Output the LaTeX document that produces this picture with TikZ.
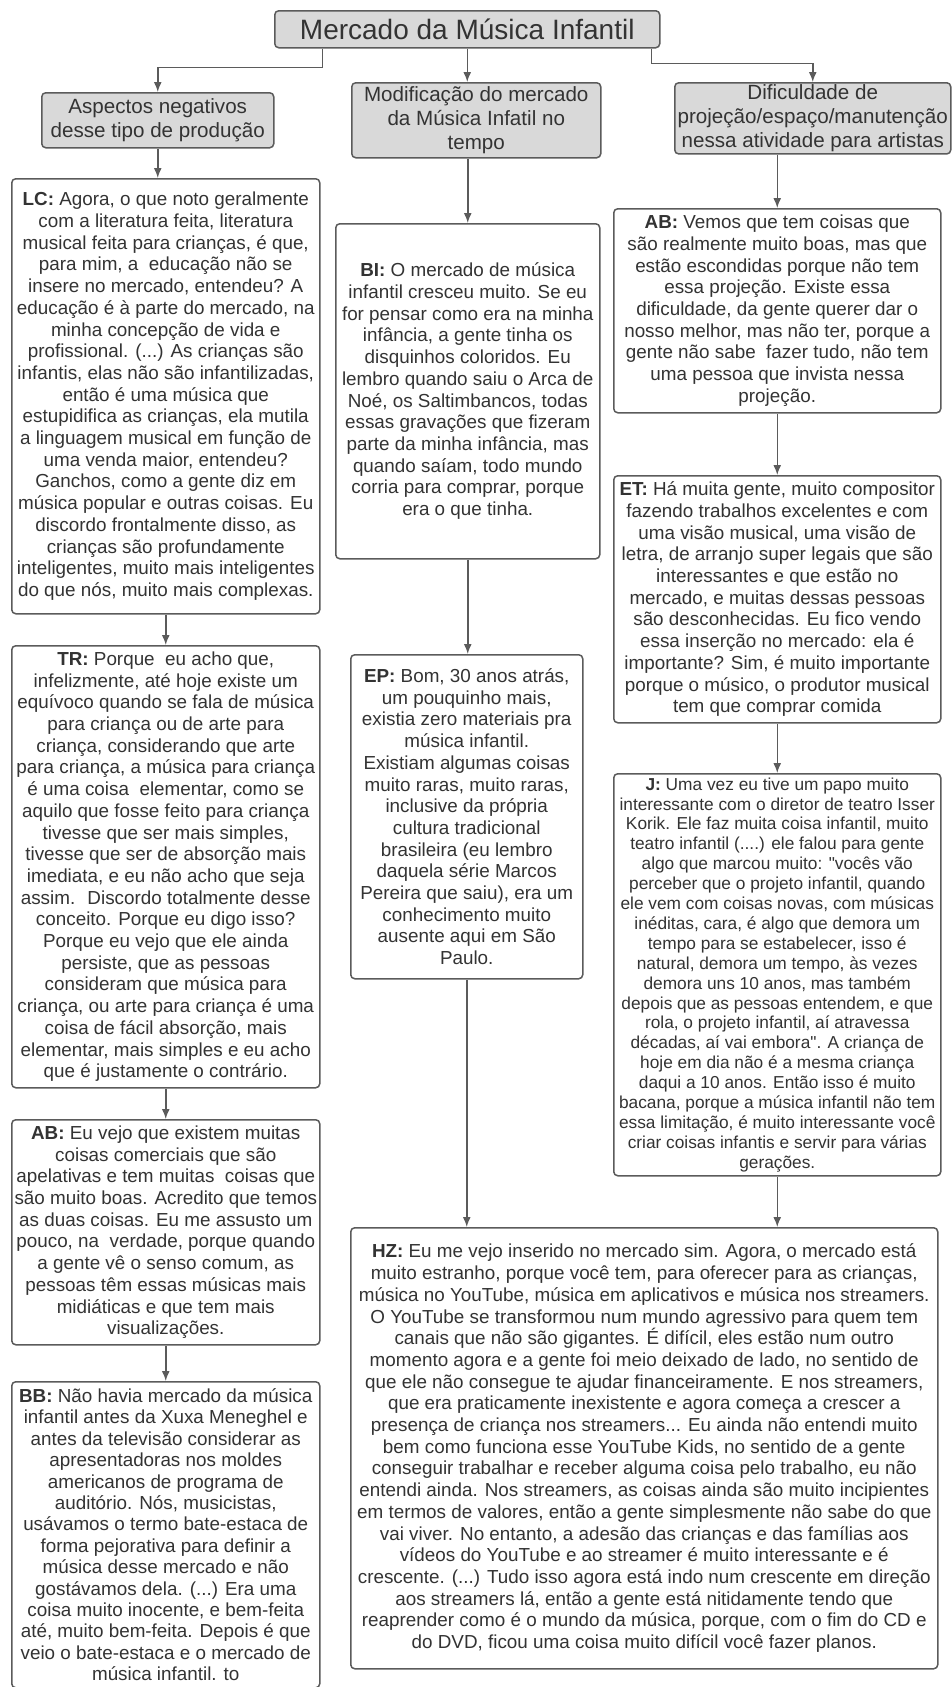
\documentclass[tikz,border=0pt]{standalone}
\usepackage{fontspec}
\setmainfont{Liberation Sans}
\usepackage{xcolor}
\usetikzlibrary{arrows.meta}
\definecolor{mapline}{HTML}{5B5B5B}
\definecolor{maptext}{HTML}{333333}
\definecolor{mapfill}{HTML}{D9D9D9}
\newcommand{\bodysize}{\fontsize{18.85}{21.7}\selectfont}
\newcommand{\smallbody}{\fontsize{17.3}{19.9}\selectfont}
\newcommand{\headsize}{\fontsize{20.6}{24}\selectfont}

\begin{document}
\begin{tikzpicture}[x=1pt, y=-1pt, >={Latex[length=10pt,width=8pt]},
  box/.style={draw=mapline, line width=1.5pt, rounded corners=4pt, align=center, text=maptext, inner sep=2pt, anchor=north west},
  head/.style={box, fill=mapfill, font=\headsize},
  quote/.style={box, fill=white, font=\bodysize},
  link/.style={->, draw=mapline, line width=1.5pt}]
  \useasboundingbox (0,0) rectangle (952,1687);
  \node[box, fill=mapfill, font=\fontsize{28}{32}\selectfont, minimum width=385pt, minimum height=37pt] (title) at (274,10) {Mercado da Música Infantil};
  \node[head, minimum width=232pt, minimum height=55pt] (asp) at (41,92) {Aspectos negativos\\desse tipo de produção};
  \node[head, minimum width=249pt, minimum height=75pt] (mod) at (351,82) {Modificação do mercado\\da Música Infatil no\\tempo};
  \node[head, minimum width=276pt, minimum height=71pt] (dif) at (674,82) {Dificuldade de\\projeção/espaço/manutenção\\nessa atividade para artistas};

  \node[quote, minimum width=308pt, minimum height=435pt] (lc) at (11,178) {\textbf{LC:} Agora, o que noto geralmente\\
    com a literatura feita, literatura\\
    musical feita para crianças, é que,\\
    para mim, a~ educação não se\\
    insere no mercado, entendeu? A\\
    educação é à parte do mercado, na\\
    minha concepção de vida e\\
    profissional. (...) As crianças são\\
    infantis, elas não são infantilizadas,\\
    então é uma música que\\
    estupidifica as crianças, ela mutila\\
    a linguagem musical em função de\\
    uma venda maior, entendeu?\\
    Ganchos, como a gente diz em\\
    música popular e outras coisas. Eu\\
    discordo frontalmente disso, as\\
    crianças são profundamente\\
    inteligentes, muito mais inteligentes\\
    do que nós, muito mais complexas.};
  \node[quote, minimum width=308pt, minimum height=442pt] (tr) at (11,645) {\textbf{TR:} Porque~ eu acho que,\\
    infelizmente, até hoje existe um\\
    equívoco quando se fala de música\\
    para criança ou de arte para\\
    criança, considerando que arte\\
    para criança, a música para criança\\
    é uma coisa~ elementar, como se\\
    aquilo que fosse feito para criança\\
    tivesse que ser mais simples,\\
    tivesse que ser de absorção mais\\
    imediata, e eu não acho que seja\\
    assim.~ Discordo totalmente desse\\
    conceito. Porque eu digo isso?\\
    Porque eu vejo que ele ainda\\
    persiste, que as pessoas\\
    consideram que música para\\
    criança, ou arte para criança é uma\\
    coisa de fácil absorção, mais\\
    elementar, mais simples e eu acho\\
    que é justamente o contrário.};
  \node[quote, minimum width=308pt, minimum height=225pt] (abl) at (11,1119) {\textbf{AB:} Eu vejo que existem muitas\\
    coisas comerciais que são\\
    apelativas e tem muitas~ coisas que\\
    são muito boas. Acredito que temos\\
    as duas coisas. Eu me assusto um\\
    pouco, na~ verdade, porque quando\\
    a gente vê o senso comum, as\\
    pessoas têm essas músicas mais\\
    midiáticas e que tem mais\\
    visualizações.};
  \node[quote, font=\fontsize{18.85}{21.4}\selectfont, minimum width=308pt, minimum height=306pt] (bb) at (11,1381) {\textbf{BB:} Não havia mercado da música\\
    infantil antes da Xuxa Meneghel e\\
    antes da televisão considerar as\\
    apresentadoras nos moldes\\
    americanos de programa de\\
    auditório. Nós, musicistas,\\
    usávamos o termo bate-estaca de\\
    forma pejorativa para definir a\\
    música desse mercado e não\\
    gostávamos dela. (...) Era uma\\
    coisa muito inocente, e bem-feita\\
    até, muito bem-feita. Depois é que\\
    veio o bate-estaca e o mercado de\\
    música infantil. to};

  \node[quote, minimum width=264pt, minimum height=335pt] (bi) at (335,223) {\textbf{BI:} O mercado de música\\
    infantil cresceu muito. Se eu\\
    for pensar como era na minha\\
    infância, a gente tinha os\\
    disquinhos coloridos. Eu\\
    lembro quando saiu o Arca de\\
    Noé, os Saltimbancos, todas\\
    essas gravações que fizeram\\
    parte da minha infância, mas\\
    quando saíam, todo mundo\\
    corria para comprar, porque\\
    era o que tinha.};
  \node[quote, minimum width=232pt, minimum height=324pt] (ep) at (350,654) {\textbf{EP:} Bom, 30 anos atrás,\\
    um pouquinho mais,\\
    existia zero materiais pra\\
    música infantil.\\
    Existiam algumas coisas\\
    muito raras, muito raras,\\
    inclusive da própria\\
    cultura tradicional\\
    brasileira (eu lembro\\
    daquela série Marcos\\
    Pereira que saiu), era um\\
    conhecimento muito\\
    ausente aqui em São\\
    Paulo.};
  \node[quote, minimum width=587pt, minimum height=441pt] (hz) at (350,1227) {\textbf{HZ:} Eu me vejo inserido no mercado sim. Agora, o mercado está\\
    muito estranho, porque você tem, para oferecer para as crianças,\\
    música no YouTube, música em aplicativos e música nos streamers.\\
    O YouTube se transformou num mundo agressivo para quem tem\\
    canais que não são gigantes. É difícil, eles estão num outro\\
    momento agora e a gente foi meio deixado de lado, no sentido de\\
    que ele não consegue te ajudar financeiramente. E nos streamers,\\
    que era praticamente inexistente e agora começa a crescer a\\
    presença de criança nos streamers... Eu ainda não entendi muito\\
    bem como funciona esse YouTube Kids, no sentido de a gente\\
    conseguir trabalhar e receber alguma coisa pelo trabalho, eu não\\
    entendi ainda. Nos streamers, as coisas ainda são muito incipientes\\
    em termos de valores, então a gente simplesmente não sabe do que\\
    vai viver. No entanto, a adesão das crianças e das famílias aos\\
    vídeos do YouTube e ao streamer é muito interessante e é\\
    crescente. (...) Tudo isso agora está indo num crescente em direção\\
    aos streamers lá, então a gente está nitidamente tendo que\\
    reaprender como é o mundo da música, porque, com o fim do CD e\\
    do DVD, ficou uma coisa muito difícil você fazer planos.};

  \node[quote, minimum width=327pt, minimum height=204pt] (abr) at (613,208) {\textbf{AB:} Vemos que tem coisas que\\
    são realmente muito boas, mas que\\
    estão escondidas porque não tem\\
    essa projeção. Existe essa\\
    dificuldade, da gente querer dar o\\
    nosso melhor, mas não ter, porque a\\
    gente não sabe~ fazer tudo, não tem\\
    uma pessoa que invista nessa\\
    projeção.};
  \node[quote, minimum width=327pt, minimum height=247pt] (et) at (613,475) {\textbf{ET:} Há muita gente, muito compositor\\
    fazendo trabalhos excelentes e com\\
    uma visão musical, uma visão de\\
    letra, de arranjo super legais que são\\
    interessantes e que estão no\\
    mercado, e muitas dessas pessoas\\
    são desconhecidas. Eu fico vendo\\
    essa inserção no mercado: ela é\\
    importante? Sim, é muito importante\\
    porque o músico, o produtor musical\\
    tem que comprar comida};
  \node[quote, font=\smallbody, minimum width=327pt, minimum height=402pt] (j) at (613,773) {\textbf{J:} Uma vez eu tive um papo muito\\
    interessante com o diretor de teatro Isser\\
    Korik. Ele faz muita coisa infantil, muito\\
    teatro infantil (....) ele falou para gente\\
    algo que marcou muito: \textquotedbl vocês vão\\
    perceber que o projeto infantil, quando\\
    ele vem com coisas novas, com músicas\\
    inéditas, cara, é algo que demora um\\
    tempo para se estabelecer, isso é\\
    natural, demora um tempo, às vezes\\
    demora uns 10 anos, mas também\\
    depois que as pessoas entendem, e que\\
    rola, o projeto infantil, aí atravessa\\
    décadas, aí vai embora\textquotedbl. A criança de\\
    hoje em dia não é a mesma criança\\
    daqui a 10 anos. Então isso é muito\\
    bacana, porque a música infantil não tem\\
    essa limitação, é muito interessante você\\
    criar coisas infantis e servir para várias\\
    gerações.};

  \draw[link] ([xshift=-145pt]title.south) -- ++(0,19) -| (asp.north);
  \draw[link] (title.south) -- (title.south |- mod.north);
  \draw[link] ([xshift=184pt]title.south) -- ++(0,15) -| (dif.north);
  \draw[link] (asp.south) -- (asp.south |- lc.north);
  \draw[link] (lc.south) -- (tr.north);
  \draw[link] (tr.south) -- (abl.north);
  \draw[link] (abl.south) -- (bb.north);
  \draw[link] (bi.north |- mod.south) -- (bi.north);
  \draw[link] (bi.south) -- (bi.south |- ep.north);
  \draw[link] (ep.south) -- (ep.south |- hz.north);
  \draw[link] (abr.north |- dif.south) -- (abr.north);
  \draw[link] (abr.south) -- (et.north);
  \draw[link] (et.south) -- (j.north);
  \draw[link] (j.south) -- (j.south |- hz.north);
\end{tikzpicture}
\end{document}
